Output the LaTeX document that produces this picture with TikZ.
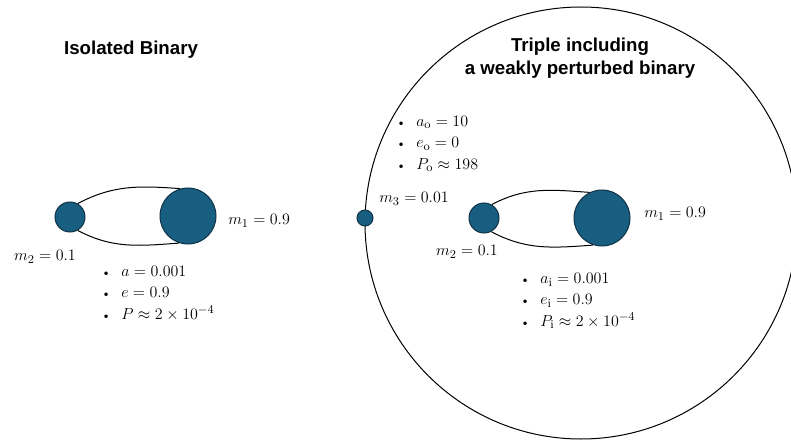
\documentclass[tikz,border=0pt]{standalone}
\usepackage{amsmath}
\usepackage{fontspec}
\newfontfamily\headfont{Liberation Sans}
\definecolor{bodyfill}{RGB}{24,94,128}
\definecolor{bodyline}{RGB}{16,50,70}

\begin{document}
\begin{tikzpicture}[
    x=0.75pt, y=0.75pt,
    body/.style={circle, draw=bodyline, fill=bodyfill, line width=0.75pt, inner sep=0pt},
    orbit/.style={line width=0.75pt},
    head/.style={font=\headfont\bfseries\fontsize{14}{17.5}\selectfont, align=center},
    mass/.style={font=\fontsize{13}{16}\selectfont, inner sep=0pt},
    params/.style={font=\fontsize{13}{16}\selectfont, align=left, inner sep=0pt, anchor=north west}
]
\useasboundingbox (0,0) rectangle (791,443);

\node[head] (titleL) at (131,393) {Isolated Binary};
\node[head] (titleR) at (580,385) {Triple including\\a weakly perturbed binary};

\node[circle, draw, line width=0.75pt, minimum size=324pt, inner sep=0pt] (outer) at (581,220) {};

\node[body, minimum size=22.5pt] (m2L) at (70,226) {};
\node[body, minimum size=42pt]   (m1L) at (188,227) {};
\draw[orbit] (m2L.60) to[out=28, in=176] (m1L.106);
\draw[orbit] (m2L.-60) to[out=-28, in=-176] (m1L.-108);

\node[mass, anchor=west] (labm1L) at (228,222) {$m_1 = 0.9$};
\node[mass] (labm2L) at (45,186) {$m_2 = 0.1$};
\node[params] (parL) at (101,177) {%
  \makebox[15pt][l]{\small\textbullet}$a = 0.001$\\
  \makebox[15pt][l]{\small\textbullet}$e = 0.9$\\
  \makebox[15pt][l]{\small\textbullet}$P \approx 2 \times 10^{-4}$};

\node[body, minimum size=12pt]   (m3)  at (365,225) {};
\node[body, minimum size=22.5pt] (m2R) at (484,225) {};
\node[body, minimum size=42pt]   (m1R) at (602,225) {};
\draw[orbit] (m2R.60) to[out=28, in=176] (m1R.116);
\draw[orbit] (m2R.-62) to[out=-28, in=-176] (m1R.-108);

\node[mass, anchor=west] (labm3) at (379,244) {$m_3 = 0.01$};
\node[mass, anchor=west] (labm1R) at (644,229) {$m_1 = 0.9$};
\node[mass] (labm2R) at (467,191) {$m_2 = 0.1$};
\node[params] (parO) at (396,327) {%
  \makebox[15pt][l]{\small\textbullet}$a_{\mathrm{o}} = 10$\\
  \makebox[15pt][l]{\small\textbullet}$e_{\mathrm{o}} = 0$\\
  \makebox[15pt][l]{\small\textbullet}$P_{\mathrm{o}} \approx 198$};
\node[params] (parI) at (520,170) {%
  \makebox[15pt][l]{\small\textbullet}$a_{\mathrm{i}} = 0.001$\\
  \makebox[15pt][l]{\small\textbullet}$e_{\mathrm{i}} = 0.9$\\
  \makebox[15pt][l]{\small\textbullet}$P_{\mathrm{i}} \approx 2 \times 10^{-4}$};
\end{tikzpicture}
\end{document}
